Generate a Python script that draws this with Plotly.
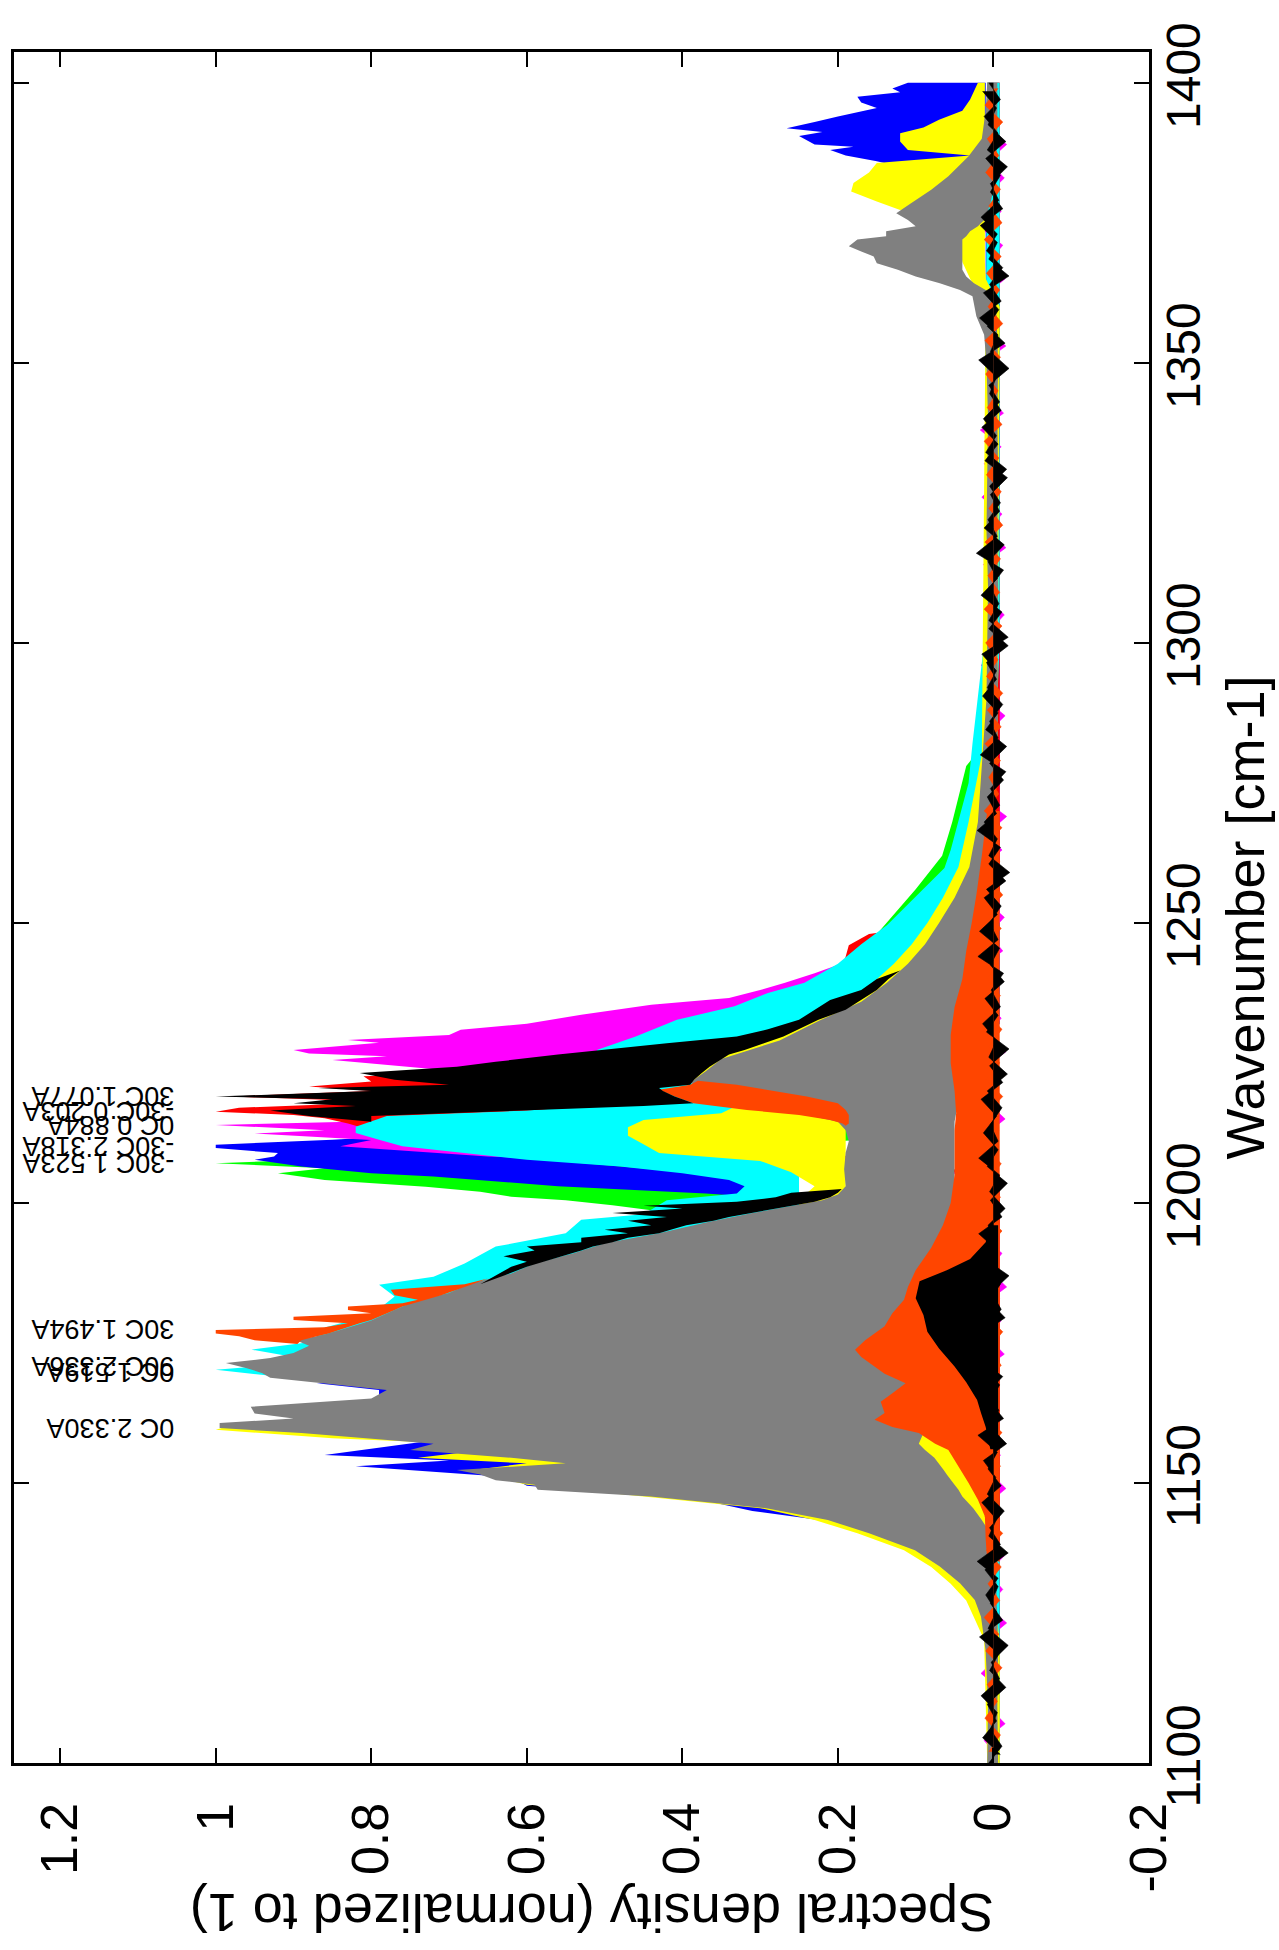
import plotly.graph_objects as go

# ---------------- axes / ticks ----------------
WN_TICKS = [1100, 1150, 1200, 1250, 1300, 1350, 1400]
SD_TICKS = [-0.2, 0, 0.2, 0.4, 0.6, 0.8, 1, 1.2]
SD_TICK_TEXT = ["-0.2", "0", "0.2", "0.4", "0.6", "0.8", "1", "1.2"]

# ---------------- series bands: (wavenumber, lower, upper) ----------------
GREEN_BAND = [
    (1100, -0.008, 0.008), (1190, -0.008, 0.010), (1196, 0.050, 0.300),
    (1198.0, 0.300, 0.400), (1199.6, 0.320, 0.490), (1200.5, 0.330, 0.550),
    (1201.1, 0.330, 0.620), (1202.0, 0.340, 0.660), (1202.9, 0.350, 0.730),
    (1203.5, 0.360, 0.800), (1204.1, 0.370, 0.860), (1205.3, 0.380, 0.920),
    (1206.2, 0.400, 0.860), (1207.1, 0.450, 1.000), (1207.6, 0.500, 0.900),
    (1208.3, 0.500, 0.850), (1209.0, 0.400, 0.600), (1212.0, 0.100, 0.300),
    (1240.0, 0.100, 0.200), (1256.0, 0.030, 0.100), (1262.0, 0.020, 0.066),
    (1268.0, 0.015, 0.053), (1274.0, 0.010, 0.042), (1278.0, 0.005, 0.035),
    (1282.0, -0.005, 0.012), (1290.0, -0.008, 0.008), (1400, -0.008, 0.008),
]

BLUE_BAND = [
    (1100, -0.008, 0.008), (1138, -0.008, 0.010), (1142, 0.050, 0.150),
    (1145.0, 0.050, 0.310), (1146.5, 0.050, 0.360), (1148.0, 0.050, 0.460),
    (1149.5, 0.050, 0.600), (1151.0, 0.050, 0.620), (1153.0, 0.050, 0.820),
    (1154.0, 0.050, 0.700), (1155.0, 0.050, 0.860), (1156.5, 0.050, 0.780),
    (1158.0, 0.050, 0.700), (1162.0, 0.050, 0.700), (1164.5, 0.050, 0.790),
    (1166.6, 0.050, 0.790), (1167.8, 0.050, 0.870), (1169.0, 0.050, 0.600),
    (1172.0, 0.050, 0.300), (1190.0, 0.050, 0.200), (1198.0, 0.200, 0.250),
    (1201.1, 0.300, 0.310), (1201.7, 0.300, 0.370), (1203.0, 0.300, 0.560),
    (1203.8, 0.310, 0.640), (1204.7, 0.330, 0.720), (1205.3, 0.380, 0.800),
    (1206.5, 0.470, 0.890), (1207.7, 0.580, 0.950), (1208.3, 0.630, 0.925),
    (1208.9, 0.670, 0.920), (1209.8, 0.750, 1.000), (1210.4, 0.780, 1.000),
    (1211.3, 0.700, 0.850), (1212.5, 0.500, 0.700), (1215.0, 0.200, 0.300),
    (1222.0, 0.050, 0.100), (1232.0, -0.008, 0.010), (1380.0, -0.008, 0.010),
    (1383.0, -0.005, 0.010), (1384.0, 0.010, 0.050), (1385.0, 0.010, 0.120),
    (1386.0, 0.010, 0.150), (1387.0, 0.010, 0.190), (1388.0, 0.010, 0.210),
    (1388.6, 0.010, 0.180), (1389.0, 0.010, 0.230), (1390.5, 0.010, 0.250),
    (1391.2, 0.010, 0.220), (1391.9, 0.010, 0.266), (1393.0, 0.010, 0.230),
    (1394.0, 0.010, 0.200), (1395.5, 0.010, 0.150), (1396.5, 0.010, 0.170),
    (1397.5, 0.010, 0.175), (1398.3, 0.010, 0.120), (1399.0, 0.010, 0.130),
    (1400.0, 0.010, 0.110),
]

MAGENTA_BAND = [
    (1100, -0.008, 0.008), (1205, -0.008, 0.010), (1208.3, 0.300, 0.650),
    (1209.2, 0.400, 0.750), (1210.1, 0.500, 0.840), (1211.25, 0.500, 0.800),
    (1212.4, 0.500, 0.950), (1213.0, 0.500, 0.860), (1213.9, 0.500, 1.000),
    (1214.6, 0.500, 0.800), (1215.5, 0.500, 0.720), (1216.5, 0.400, 0.600),
    (1220.0, 0.400, 0.600), (1223.0, 0.400, 0.650), (1224.0, 0.400, 0.733),
    (1225.5, 0.400, 0.850), (1226.2, 0.400, 0.780), (1226.7, 0.400, 0.880),
    (1227.3, 0.400, 0.900), (1228.2, 0.350, 0.830), (1228.6, 0.330, 0.790),
    (1229.1, 0.300, 0.830), (1230.0, 0.300, 0.700), (1230.9, 0.300, 0.685),
    (1232.0, 0.300, 0.600), (1233.6, 0.300, 0.530), (1235.4, 0.300, 0.440),
    (1236.6, 0.250, 0.340), (1238.0, 0.220, 0.300), (1239.3, 0.200, 0.268),
    (1241.0, 0.150, 0.230), (1244.0, 0.100, 0.170), (1248.0, 0.030, 0.080),
    (1252.0, -0.008, 0.010), (1400, -0.008, 0.008),
]

RED_BAND = [
    (1100, -0.008, 0.008), (1205, -0.008, 0.010), (1212.0, 0.400, 0.600),
    (1213.0, 0.500, 0.800), (1214.2, 0.500, 0.830), (1215.1, 0.500, 0.860),
    (1215.7, 0.500, 0.900), (1216.3, 0.500, 1.000), (1217.0, 0.500, 0.970),
    (1218.0, 0.500, 0.780), (1219.0, 0.500, 0.980), (1220.0, 0.500, 0.800),
    (1220.8, 0.500, 0.880), (1221.7, 0.500, 0.800), (1222.6, 0.500, 0.810),
    (1224.0, 0.400, 0.500), (1230.0, 0.300, 0.400), (1240.0, 0.100, 0.200),
    (1244.0, 0.080, 0.190), (1246.0, 0.080, 0.186), (1248.0, 0.050, 0.160),
    (1250.0, 0.020, 0.060), (1255.0, -0.008, 0.010), (1400, -0.008, 0.008),
]

CYAN_BAND = [
    (1100, -0.008, 0.008), (1136, -0.008, 0.010), (1140, 0.005, 0.030),
    (1144, 0.010, 0.060), (1147, 0.015, 0.080), (1150, 0.025, 0.100),
    (1153, 0.035, 0.120), (1156, 0.045, 0.150), (1158, 0.060, 0.200),
    (1162, 0.100, 0.500), (1166, 0.100, 0.700), (1168, 0.100, 0.800),
    (1169, 0.100, 0.920), (1170.2, 0.100, 1.000), (1171.5, 0.100, 0.890),
    (1172.5, 0.100, 0.900), (1173.8, 0.100, 0.954), (1175.5, 0.100, 0.860),
    (1177, 0.100, 0.880), (1180, 0.100, 0.800), (1183.3, 0.100, 0.770),
    (1185.4, 0.100, 0.790), (1186.8, 0.100, 0.720), (1189.2, 0.100, 0.680),
    (1192.2, 0.100, 0.640), (1194.6, 0.100, 0.550), (1197, 0.150, 0.530),
    (1198, 0.200, 0.450), (1200.5, 0.250, 0.420), (1201.7, 0.250, 0.330),
    (1203, 0.250, 0.320), (1204.1, 0.250, 0.340), (1205.3, 0.250, 0.400),
    (1206.5, 0.250, 0.480), (1207.7, 0.250, 0.600), (1208.9, 0.250, 0.680),
    (1210.1, 0.250, 0.760), (1211.3, 0.260, 0.790), (1212.5, 0.280, 0.820),
    (1213.6, 0.300, 0.820), (1214.5, 0.300, 0.800), (1215.5, 0.300, 0.780),
    (1216.5, 0.300, 0.600), (1217.5, 0.300, 0.500), (1220, 0.300, 0.450),
    (1223, 0.300, 0.480), (1225, 0.280, 0.500), (1227.3, 0.250, 0.510),
    (1229.7, 0.200, 0.460), (1232.7, 0.150, 0.407), (1235.1, 0.120, 0.333),
    (1237.5, 0.100, 0.290), (1239.3, 0.090, 0.243), (1242.7, 0.080, 0.200),
    (1246.2, 0.060, 0.170), (1249.6, 0.050, 0.137), (1253, 0.040, 0.112),
    (1256.4, 0.030, 0.088), (1259.8, 0.020, 0.063), (1263, 0.015, 0.055),
    (1268.2, 0.010, 0.045), (1275, 0.005, 0.032), (1282, 0.000, 0.027),
    (1290, -0.005, 0.020), (1300, -0.008, 0.012), (1400, -0.008, 0.008),
]

YELLOW_BAND = [
    (1100, -0.008, 0.008), (1122, -0.008, 0.012), (1126, -0.004, 0.025),
    (1129, -0.002, 0.035), (1132, 0.000, 0.055), (1135, 0.000, 0.080),
    (1138, 0.000, 0.115), (1141, 0.000, 0.175), (1143.4, 0.000, 0.230),
    (1145.5, 0.000, 0.300), (1147.6, 0.000, 0.450), (1149.7, 0.000, 0.600),
    (1151, 0.000, 0.640), (1152.5, 0.000, 0.660), (1153.5, 0.000, 0.600),
    (1154.5, 0.000, 0.740), (1155.5, 0.000, 0.680), (1156.5, 0.000, 0.600),
    (1158, 0.000, 0.850), (1159.5, 0.000, 1.000), (1160.3, 0.000, 0.980),
    (1161.5, 0.000, 0.800), (1165, 0.000, 0.600), (1180, 0.000, 0.400),
    (1198, 0.100, 0.250), (1200.5, 0.190, 0.250), (1203, 0.190, 0.230),
    (1205.5, 0.190, 0.260), (1207.5, 0.190, 0.300), (1208.9, 0.190, 0.430),
    (1210.5, 0.190, 0.450), (1212, 0.190, 0.470), (1213.5, 0.190, 0.470),
    (1214.8, 0.190, 0.450), (1216, 0.190, 0.350), (1218, 0.150, 0.320),
    (1222.3, 0.100, 0.400), (1225.7, 0.080, 0.370), (1229, 0.060, 0.300),
    (1232.5, 0.050, 0.250), (1235.9, 0.040, 0.190), (1239.3, 0.035, 0.155),
    (1242.7, 0.030, 0.128), (1246.2, 0.025, 0.105), (1250, 0.020, 0.085),
    (1254.5, 0.015, 0.065), (1260, 0.008, 0.045), (1268, 0.000, 0.032),
    (1280, -0.005, 0.015), (1360, -0.008, 0.010), (1365, 0.010, 0.030),
    (1368, 0.011, 0.040), (1372, 0.011, 0.045), (1374.5, 0.011, 0.060),
    (1376.1, 0.011, 0.100), (1377.3, 0.011, 0.120), (1378.8, 0.011, 0.150),
    (1380.6, 0.011, 0.183), (1382.1, 0.011, 0.180), (1384, 0.011, 0.160),
    (1385.7, 0.011, 0.150), (1387, 0.011, 0.030), (1388, 0.011, 0.110),
    (1389.5, 0.011, 0.120), (1391, 0.011, 0.120), (1392, 0.011, 0.090),
    (1393.4, 0.011, 0.070), (1395, 0.011, 0.040), (1397, 0.011, 0.030),
    (1400, 0.011, 0.020),
]

GRAY_BAND = [
    (1100, -0.006, 0.008), (1110, -0.005, 0.007), (1120, -0.006, 0.010),
    (1126.1, -0.005, 0.016), (1129.1, -0.004, 0.024), (1132.1, -0.004, 0.043),
    (1135.1, -0.003, 0.069), (1138.0, -0.002, 0.101), (1141.0, 0.004, 0.160),
    (1143.4, 0.015, 0.213), (1145.5, 0.026, 0.292), (1147.6, 0.040, 0.441),
    (1148.8, 0.045, 0.586), (1149.7, 0.050, 0.590), (1150.5, 0.055, 0.640),
    (1151.5, 0.060, 0.660), (1152.3, 0.064, 0.690), (1153.5, 0.070, 0.550),
    (1154.5, 0.076, 0.620), (1155.9, 0.088, 0.750), (1157.0, 0.096, 0.720),
    (1158.9, 0.090, 0.890), (1159.8, 0.080, 0.995), (1160.7, 0.070, 0.995),
    (1161.5, 0.060, 0.900), (1162.4, 0.055, 0.950), (1163.6, 0.050, 0.955),
    (1165.1, 0.050, 0.800), (1166.6, 0.050, 0.780), (1167.8, 0.050, 0.864),
    (1168.8, 0.050, 0.930), (1169.6, 0.050, 0.940), (1170.5, 0.050, 0.960),
    (1171.4, 0.050, 0.987), (1172.3, 0.050, 0.930), (1173.2, 0.050, 0.900),
    (1174.5, 0.050, 0.880), (1175.5, 0.050, 0.897), (1176.5, 0.050, 0.860),
    (1177.3, 0.050, 0.840), (1179.0, 0.050, 0.800), (1180.9, 0.050, 0.770),
    (1182.4, 0.050, 0.745), (1183.9, 0.050, 0.700), (1185.6, 0.050, 0.672),
    (1187.4, 0.050, 0.620), (1189.2, 0.050, 0.590), (1191.0, 0.050, 0.540),
    (1192.8, 0.050, 0.500), (1194.6, 0.050, 0.430), (1196.5, 0.050, 0.370),
    (1198.2, 0.050, 0.310), (1199.5, 0.050, 0.260), (1200.5, 0.050, 0.220),
    (1201.5, 0.050, 0.200), (1203.0, 0.050, 0.190), (1206.0, 0.050, 0.192),
    (1209.0, 0.050, 0.190), (1211.0, 0.050, 0.186), (1213.0, 0.050, 0.190),
    (1214.5, 0.050, 0.200), (1216.0, 0.048, 0.250), (1218.0, 0.047, 0.300),
    (1220.0, 0.046, 0.370), (1221.5, 0.046, 0.390), (1222.3, 0.046, 0.382),
    (1223.5, 0.046, 0.370), (1225.7, 0.045, 0.350), (1229.0, 0.045, 0.275),
    (1232.5, 0.040, 0.225), (1235.9, 0.035, 0.170), (1239.3, 0.032, 0.137),
    (1242.7, 0.030, 0.110), (1246.2, 0.026, 0.088), (1250.0, 0.022, 0.070),
    (1254.5, 0.016, 0.050), (1260.0, 0.008, 0.031), (1268.0, -0.002, 0.020),
    (1280.0, -0.005, 0.014), (1290.0, -0.006, 0.009), (1300.0, -0.005, 0.008),
    (1310.0, -0.006, 0.007), (1320.0, -0.005, 0.009), (1330.0, -0.006, 0.008),
    (1340.0, -0.005, 0.007), (1350.0, -0.006, 0.009), (1355.0, -0.005, 0.012),
    (1358.3, -0.004, 0.022), (1361.9, -0.002, 0.027), (1363.0, 0.010, 0.043),
    (1364.2, 0.025, 0.069), (1365.4, 0.035, 0.100), (1366.6, 0.040, 0.123),
    (1367.8, 0.040, 0.150), (1369.0, 0.040, 0.154), (1369.9, 0.040, 0.170),
    (1370.8, 0.040, 0.186), (1372.0, 0.040, 0.175), (1372.6, 0.035, 0.138),
    (1373.5, 0.030, 0.138), (1374.4, 0.020, 0.100), (1375.5, 0.012, 0.110),
    (1376.7, 0.008, 0.125), (1378.5, 0.004, 0.106), (1380.9, 0.000, 0.080),
    (1383.3, -0.002, 0.058), (1386.9, -0.004, 0.032), (1390.0, -0.005, 0.015),
    (1395.0, -0.005, 0.010), (1400.0, -0.005, 0.008),
]

ORANGE_INNER = [
    (1136, -0.008, 0.008), (1140, -0.008, 0.010), (1144, -0.008, 0.011),
    (1147, -0.008, 0.020), (1150, -0.008, 0.032), (1153, -0.008, 0.045),
    (1155.9, -0.008, 0.058), (1157, -0.008, 0.075), (1158.9, -0.008, 0.096),
    (1160, -0.008, 0.130), (1161.3, -0.008, 0.153), (1162.5, -0.008, 0.140),
    (1164.5, -0.008, 0.145), (1166, -0.008, 0.130), (1167.8, -0.008, 0.113),
    (1169.5, -0.008, 0.140), (1170.8, -0.008, 0.153), (1172.5, -0.008, 0.170),
    (1173.8, -0.008, 0.178), (1175.5, -0.008, 0.165), (1176.7, -0.008, 0.153),
    (1178, -0.008, 0.140), (1180.3, -0.008, 0.130), (1182.7, -0.008, 0.115),
    (1185, -0.008, 0.110), (1188, -0.008, 0.100), (1192, -0.008, 0.080),
    (1196, -0.008, 0.065), (1200, -0.008, 0.055), (1205, -0.008, 0.050),
    (1210, -0.008, 0.050), (1213, -0.008, 0.050), (1216, -0.008, 0.048),
    (1220, -0.008, 0.050), (1225, -0.008, 0.055), (1230, -0.008, 0.055),
    (1235, -0.008, 0.050), (1240, -0.008, 0.040), (1245, -0.008, 0.035),
    (1250, -0.008, 0.028), (1255, -0.008, 0.022), (1262, -0.008, 0.015),
    (1270, -0.008, 0.008),
]

ORANGE_PEAK = [
    (1174.8, 0.895, 0.895), (1175.5, 0.890, 0.950), (1176.2, 0.870, 0.970),
    (1176.7, 0.855, 1.000), (1177.3, 0.840, 1.000), (1177.8, 0.830, 0.860),
    (1178.5, 0.815, 0.830), (1179.1, 0.800, 0.900), (1179.7, 0.790, 0.900),
    (1180.3, 0.780, 0.800), (1180.9, 0.770, 0.830), (1181.5, 0.760, 0.830),
    (1182.1, 0.745, 0.760), (1182.7, 0.730, 0.740), (1183.5, 0.710, 0.770),
    (1184.5, 0.690, 0.775), (1185.5, 0.670, 0.680), (1186.5, 0.650, 0.650),
]

ORANGE_MID = [
    (1213.8, 0.190, 0.190), (1214.2, 0.186, 0.194), (1214.8, 0.186, 0.210),
    (1215.7, 0.186, 0.250), (1216.6, 0.190, 0.317), (1217.8, 0.200, 0.386),
    (1219.0, 0.240, 0.410), (1220.2, 0.290, 0.430), (1221.1, 0.330, 0.390),
    (1221.8, 0.380, 0.380),
]

BLACK_INNER = [
    (1156, -0.006, 0.004), (1160, -0.006, 0.010), (1162.5, -0.006, 0.016),
    (1164.8, -0.006, 0.021), (1168, -0.006, 0.035), (1170.8, -0.006, 0.050),
    (1174, -0.006, 0.070), (1177, -0.006, 0.085), (1180, -0.006, 0.090),
    (1183, -0.006, 0.100), (1186, -0.006, 0.095), (1188, -0.006, 0.060),
    (1190, -0.006, 0.030), (1193, -0.006, 0.010), (1196, -0.006, 0.004),
]

BLACK_SPIKES = [
    (1185.5, 0.660, 0.660), (1187.0, 0.630, 0.640), (1188.6, 0.600, 0.620),
    (1189.5, 0.580, 0.600), (1190.5, 0.555, 0.630), (1191.5, 0.530, 0.590),
    (1192.2, 0.515, 0.600), (1193.0, 0.490, 0.530), (1193.8, 0.470, 0.530),
    (1194.6, 0.430, 0.470), (1195.2, 0.415, 0.500), (1196.0, 0.395, 0.440),
    (1196.8, 0.360, 0.470), (1197.5, 0.340, 0.420), (1198.2, 0.310, 0.490),
    (1199.0, 0.280, 0.400), (1199.5, 0.260, 0.450), (1200.2, 0.230, 0.330),
    (1201.0, 0.210, 0.280), (1201.8, 0.200, 0.260), (1202.5, 0.195, 0.195),
]

BLACK_MAIN = [
    (1214.5, 0.800, 0.800), (1215.5, 0.800, 0.880), (1216.5, 0.600, 0.930),
    (1217.3, 0.450, 0.820), (1217.8, 0.386, 0.900), (1218.5, 0.400, 0.850),
    (1219.0, 0.410, 1.000), (1220.0, 0.425, 0.800), (1220.5, 0.430, 0.868),
    (1221.1, 0.390, 0.700), (1222.0, 0.385, 0.770), (1223.2, 0.375, 0.815),
    (1224.3, 0.365, 0.690), (1225.2, 0.355, 0.640), (1226.5, 0.340, 0.560),
    (1227.3, 0.320, 0.505), (1228.5, 0.295, 0.420), (1229.7, 0.270, 0.330),
    (1231.0, 0.250, 0.290), (1232.7, 0.225, 0.250), (1234.5, 0.190, 0.230),
    (1236.25, 0.170, 0.210), (1238.0, 0.150, 0.170), (1240.0, 0.135, 0.150),
    (1241.5, 0.120, 0.120),
]

# baseline noise near zero, interleaved wavenumber grids (step 3 cm-1)
NOISE_WN_BLACK = list(range(1100, 1401, 3))
NOISE_WN_BLACK2 = [1101.5 + 3 * k for k in range(100)]
NOISE_WN_MAGENTA = list(range(1101, 1400, 3))
NOISE_WN_ORANGE = list(range(1102, 1400, 3))
BLACK_NOISE = [
    0.006, -0.011, 0.004, -0.005, 0.016, -0.008, 0.003, -0.019, 0.007, -0.004,
    0.010, -0.006, 0.021, -0.009, 0.005, -0.014, 0.008, -0.003, 0.013, -0.017,
    0.004, -0.007, 0.009, -0.012, 0.018, -0.005, 0.006, -0.010, 0.003, -0.020,
    0.011, -0.004, 0.007, -0.015, 0.005, -0.008, 0.019, -0.006, 0.004, -0.011,
    0.008, -0.018, 0.006, -0.004, 0.014, -0.009, 0.003, -0.013, 0.020, -0.006,
    0.005, -0.010, 0.009, -0.021, 0.006, -0.005, 0.012, -0.008, 0.004, -0.016,
    0.017, -0.006, 0.005, -0.012, 0.008, -0.004, 0.015, -0.019, 0.006, -0.007,
    0.004, -0.013, 0.022, -0.005, 0.007, -0.009, 0.005, -0.017, 0.010, -0.004,
    0.013, -0.008, 0.006, -0.020, 0.004, -0.006, 0.018, -0.010, 0.005, -0.012,
    0.009, -0.005, 0.016, -0.007, 0.004, -0.018, 0.008, -0.006, 0.012, -0.009,
    0.006,
]
BLACK_NOISE2 = [
    -0.009, 0.014, -0.004, 0.008, -0.016, 0.005, -0.007, 0.018, -0.012, 0.004,
    -0.006, 0.011, -0.019, 0.006, -0.004, 0.015, -0.010, 0.007, -0.005, 0.020,
    -0.013, 0.005, -0.008, 0.012, -0.004, 0.017, -0.015, 0.006, -0.009, 0.010,
    -0.005, 0.019, -0.011, 0.004, -0.018, 0.008, -0.006, 0.013, -0.004, 0.016,
    -0.012, 0.005, -0.020, 0.009, -0.006, 0.011, -0.014, 0.004, -0.008, 0.018,
    -0.005, 0.012, -0.016, 0.006, -0.009, 0.021, -0.004, 0.008, -0.013, 0.005,
    -0.017, 0.010, -0.006, 0.014, -0.004, 0.009, -0.019, 0.006, -0.011, 0.016,
    -0.005, 0.007, -0.014, 0.012, -0.008, 0.004, -0.018, 0.011, -0.006, 0.015,
    -0.010, 0.005, -0.004, 0.019, -0.015, 0.008, -0.007, 0.013, -0.020, 0.006,
    -0.005, 0.017, -0.012, 0.004, -0.009, 0.010, -0.016, 0.007, -0.004, 0.014,
]
MAGENTA_NOISE = [
    -0.007, 0.012, -0.015, 0.006, -0.010, 0.016, -0.006, 0.009, -0.017, 0.008,
    -0.012, 0.007, -0.014, 0.017, -0.006, 0.010, -0.016, 0.006, -0.009, 0.015,
    -0.008, 0.013, -0.006, 0.016, -0.014, 0.007, -0.010, 0.012, -0.017, 0.006,
    -0.011, 0.015, -0.007, 0.010, -0.013, 0.017, -0.006, 0.012, -0.015, 0.008,
    -0.006, 0.014, -0.016, 0.007, -0.010, 0.013, -0.008, 0.017, -0.012, 0.006,
    -0.014, 0.010, -0.007, 0.016, -0.011, 0.008, -0.017, 0.012, -0.006, 0.014,
    -0.010, 0.007, -0.015, 0.011, -0.008, 0.016, -0.012, 0.006, -0.014, 0.010,
    -0.007, 0.013, -0.016, 0.008, -0.011, 0.015, -0.006, 0.012, -0.010, 0.017,
    -0.013, 0.007, -0.008, 0.014, -0.016, 0.010, -0.007, 0.011, -0.015, 0.006,
    -0.012, 0.016, -0.010, 0.008, -0.014, 0.007, -0.017, 0.013, -0.007, 0.011,
]
ORANGE_NOISE = [
    0.006, -0.009, 0.011, -0.005, 0.008, -0.011, 0.010, -0.007, 0.012, -0.008,
    0.007, -0.010, 0.009, -0.012, 0.011, -0.006, 0.010, -0.009, 0.008, -0.011,
    0.012, -0.007, 0.009, -0.010, 0.006, -0.012, 0.011, -0.008, 0.010, -0.006,
    0.008, -0.011, 0.012, -0.009, 0.007, -0.010, 0.011, -0.007, 0.009, -0.012,
    0.010, -0.008, 0.006, -0.011, 0.012, -0.009, 0.008, -0.006, 0.011, -0.010,
    0.009, -0.012, 0.007, -0.008, 0.010, -0.011, 0.012, -0.007, 0.006, -0.009,
    0.011, -0.010, 0.008, -0.012, 0.009, -0.006, 0.010, -0.011, 0.012, -0.008,
    0.007, -0.009, 0.011, -0.012, 0.006, -0.010, 0.009, -0.007, 0.012, -0.011,
    0.008, -0.006, 0.010, -0.009, 0.011, -0.012, 0.007, -0.008, 0.009, -0.010,
    0.012, -0.011, 0.006, -0.009, 0.010, -0.007, 0.008, -0.012, 0.011, -0.006,
]

# peak labels
LABELS = ["0C 2.330A", "0C 1.519A", "90C 2.336A", "30C 1.494A", "-30C 1.523A",
          "-30C 2.318A", "0C 0.884A", "-30C 0.203A", "30C 1.077A"]
LABEL_WN = [1159.8, 1169.8, 1171.0, 1177.6, 1207.1, 1210.05, 1213.9, 1216.3, 1219.0]
LABEL_SD = 1.051

COL = {
    "green": "#00ff00", "blue": "#0000ff", "magenta": "#ff00ff", "red": "#ff0000",
    "cyan": "#00ffff", "yellow": "#ffff00", "gray": "#808080",
    "orange": "#ff4500", "black": "#000000",
}

FONT = "Liberation Sans, Arial, Helvetica, sans-serif"

fig = go.Figure()


def add_bands(bands, color):
    xs, ys = [], []
    for rows in bands:
        wn = [r[0] for r in rows]
        lo = [r[1] for r in rows]
        hi = [r[2] for r in rows]
        xs += hi + lo[::-1] + [None]
        ys += wn + wn[::-1] + [None]
    fig.add_trace(go.Scatter(x=xs, y=ys, mode="lines", fill="toself",
                             fillcolor=color, line=dict(width=0, color=color),
                             hoverinfo="skip", showlegend=False))


def add_noise(vals, wn, color):
    fig.add_trace(go.Scatter(x=vals, y=wn, mode="lines", fill="tozerox",
                             fillcolor=color, line=dict(width=0.6, color=color),
                             hoverinfo="skip", showlegend=False))


add_bands([GREEN_BAND], COL["green"])
add_bands([BLUE_BAND], COL["blue"])
add_bands([MAGENTA_BAND], COL["magenta"])
add_noise(MAGENTA_NOISE, NOISE_WN_MAGENTA, COL["magenta"])
add_bands([RED_BAND], COL["red"])
add_bands([CYAN_BAND], COL["cyan"])
add_bands([YELLOW_BAND], COL["yellow"])
add_bands([GRAY_BAND], COL["gray"])
add_bands([ORANGE_INNER, ORANGE_PEAK, ORANGE_MID], COL["orange"])
add_noise(ORANGE_NOISE, NOISE_WN_ORANGE, COL["orange"])
add_bands([BLACK_INNER, BLACK_SPIKES, BLACK_MAIN], COL["black"])
add_noise(BLACK_NOISE2, NOISE_WN_BLACK2, COL["black"])
add_noise(BLACK_NOISE, NOISE_WN_BLACK, COL["black"])

annotations = []
for txt, wn in zip(LABELS, LABEL_WN):
    annotations.append(dict(x=LABEL_SD, y=wn, xref="x", yref="y", text=txt,
                            showarrow=False, textangle=180, xanchor="right",
                            yanchor="middle", font=dict(family=FONT, size=27, color="black")))

annotations.append(dict(x=0.5097, y=-0.0877, xref="paper", yref="paper",
                        text="Spectral density (normalized to 1)", showarrow=False,
                        textangle=180, xanchor="center", yanchor="middle",
                        font=dict(family=FONT, size=54, color="black")))
annotations.append(dict(x=1.085, y=0.4944, xref="paper", yref="paper",
                        text="Wavenumber [cm-1]", showarrow=False,
                        textangle=-90, xanchor="center", yanchor="middle",
                        font=dict(family=FONT, size=54, color="black")))

fig.update_layout(
    width=1279, height=1950, autosize=False,
    margin=dict(l=11, r=130, t=52, b=187),
    paper_bgcolor="white", plot_bgcolor="white",
    showlegend=False,
    annotations=annotations,
    xaxis=dict(range=[1.2594, -0.2], tickvals=SD_TICKS, ticktext=SD_TICK_TEXT,
               side="bottom", showline=True, linecolor="black", linewidth=3,
               mirror="ticks", ticks="inside", ticklen=15, tickwidth=2,
               tickcolor="black", tickangle=-90, ticklabelstandoff=16,
               tickfont=dict(family=FONT, size=52, color="black"),
               showgrid=False, zeroline=False),
    yaxis=dict(range=[1100, 1405.5], tickvals=WN_TICKS,
               side="right", showline=True, linecolor="black", linewidth=3,
               mirror="ticks", ticks="inside", ticklen=15, tickwidth=2,
               tickcolor="black", tickangle=-90, ticklabelstandoff=-10,
               tickfont=dict(family=FONT, size=48, color="black"),
               showgrid=False, zeroline=False),
)

fig.write_html("out.html", config={"displayModeBar": False})
